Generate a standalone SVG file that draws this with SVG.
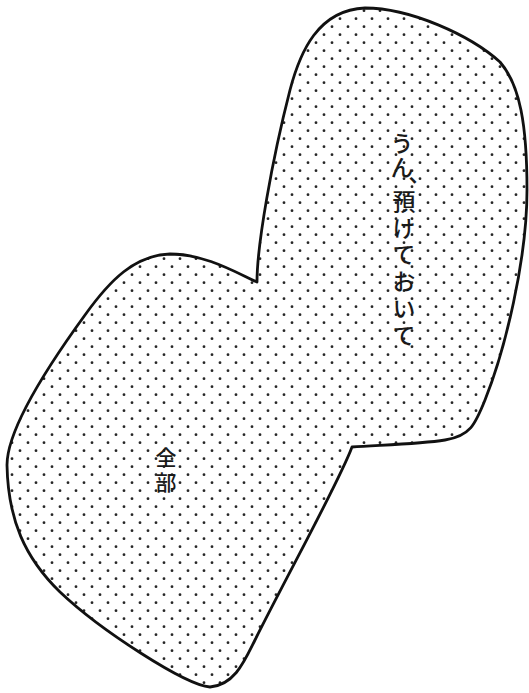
<svg xmlns="http://www.w3.org/2000/svg" width="529" height="693" viewBox="0 0 529 693">
  <style>
    .bubble { fill: url(#dots); stroke: #111; stroke-width: 2.8; stroke-linejoin: round; }
    .vt { font-family: "Noto Sans CJK JP", "Noto Sans", sans-serif; font-weight: 500; fill: #1a1a1a; writing-mode: vertical-rl; }
  </style>
  <defs>
    <pattern id="dots" patternUnits="userSpaceOnUse" x="0" y="0" width="16" height="16">
      <rect width="16" height="16" fill="#fff"/>
      <circle cx="4" cy="2.7" r="1.4" fill="#262626"/>
      <circle cx="12" cy="10.7" r="1.4" fill="#262626"/>
    </pattern>
  </defs>
  <rect width="529" height="693" fill="#fff"/>
  <g id="bubble">
    <path class="bubble" d="M257,282 C257,245 272,160 290,90 C300,52 318,10 365,8 C410,8 470,35 500,62 C520,85 527,125 527,190 C527,260 505,350 485,400 C475,425 470,436 445,440 C420,444 380,445 352,447 C340,480 290,570 255,640 C245,660 235,685 210,687 C185,685 100,630 60,592 C25,558 8,520 7,465 C7,430 45,370 85,315 C110,280 135,255 170,254 C205,254 235,272 257,282 Z"/>
  </g>
  <g id="text-right">
    <text class="vt" x="402" y="131.5" font-size="23" letter-spacing="1">うん</text>
    <text class="vt" x="406" y="176" font-size="23">、</text>
    <text class="vt" x="404" y="189.5" font-size="23" letter-spacing="3.8">預けておいて</text>
  </g>
  <g id="text-left">
    <text class="vt" x="166" y="447" font-size="21" letter-spacing="3.5">全部</text>
  </g>
</svg>
